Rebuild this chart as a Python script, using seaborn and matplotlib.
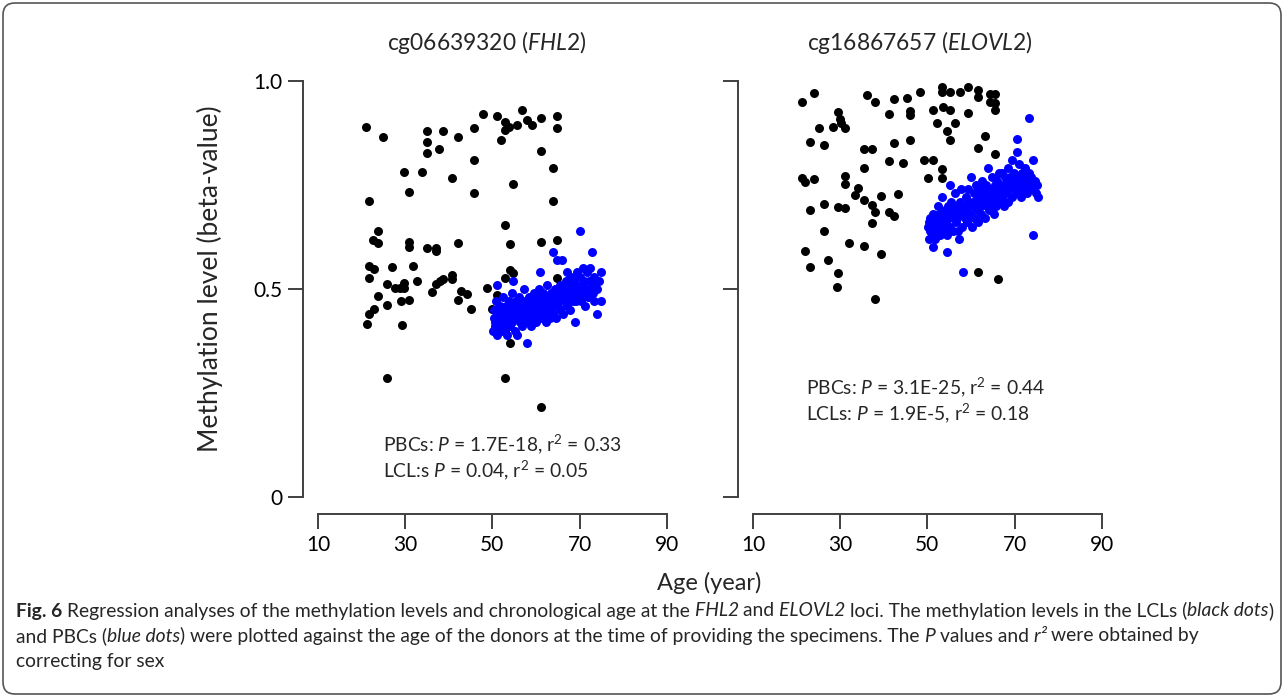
import matplotlib
matplotlib.use("Agg")
import matplotlib.pyplot as plt
from matplotlib.patches import FancyBboxPatch
from matplotlib.transforms import IdentityTransform
import pandas as pd
import seaborn as sns

sns.set_theme(style="white")
plt.rcParams['font.family'] = ['Lato', 'DejaVu Sans']
plt.rcParams['mathtext.fontset'] = 'custom'
plt.rcParams['mathtext.rm'] = 'Lato'
plt.rcParams['mathtext.it'] = 'Lato:italic'

# (age, beta)
fhl2_lcl = [(21.0,0.89),(25.0,0.865),(34.9,0.88),(34.9,0.854),(34.9,0.828),(38.7,0.88),(37.8,0.836),
            (42.0,0.865),(45.8,0.887),(45.8,0.81),(47.8,0.92),(51.0,0.916),(53.0,0.901),(53.0,0.882),
            (53.9,0.89),(55.7,0.894),(56.9,0.93),(57.9,0.906),(59.0,0.894),(61.1,0.912),(64.9,0.916),
            (64.9,0.886),(52.0,0.858),(61.1,0.832),(63.8,0.792),(29.7,0.781),(33.9,0.781),(40.8,0.766),
            (30.8,0.734),(45.8,0.73),(54.8,0.752),(21.7,0.712),(63.8,0.712),(53.0,0.655),(23.8,0.639),
            (22.7,0.618),(23.8,0.61),(30.8,0.614),(30.8,0.602),(34.9,0.599),(37.0,0.598),(37.0,0.591),
            (42.0,0.61),(54.0,0.607),(61.1,0.614),(64.9,0.618),(21.7,0.556),(22.8,0.548),(27.0,0.552),
            (31.9,0.556),(21.7,0.526),(25.9,0.512),(27.6,0.502),(28.8,0.502),(29.7,0.515),(29.7,0.502),
            (32.8,0.52),(37.0,0.512),(38.0,0.518),(38.7,0.523),(40.8,0.533),(40.8,0.523),(54.0,0.546),
            (54.8,0.538),(53.0,0.526),(64.9,0.526),(48.8,0.502),(51.0,0.486),(42.9,0.496),(44.1,0.488),
            (36.1,0.492),(23.8,0.483),(22.8,0.453),(21.7,0.44),(25.9,0.462),(29.0,0.47),(30.8,0.474),
            (42.0,0.474),(45.0,0.453),(49.9,0.453),(21.2,0.417),(29.2,0.413),(25.9,0.285),(53.0,0.285),
            (54.0,0.369),(61.1,0.216)]

fhl2_pbc = [(50.1,0.40),(50.3,0.43),(50.4,0.45),(50.6,0.41),(50.8,0.47),(51.0,0.51),(51.1,0.39),(51.3,0.44),
            (51.5,0.42),(51.7,0.46),(51.9,0.40),(52.1,0.43),(52.3,0.45),(52.4,0.48),(52.6,0.41),(52.8,0.44),
            (53.0,0.42),(53.1,0.46),(53.3,0.39),(53.5,0.43),(53.7,0.47),(53.9,0.45),(54.0,0.41),(54.2,0.44),
            (54.4,0.49),(54.6,0.42),(54.8,0.52),(54.9,0.46),(55.1,0.40),(55.3,0.44),(55.5,0.47),(55.6,0.39),
            (55.8,0.43),(56.0,0.45),(56.2,0.48),(56.4,0.42),(56.6,0.46),(56.7,0.44),(56.9,0.41),(57.1,0.47),
            (57.3,0.50),(57.5,0.43),(57.7,0.45),(57.9,0.37),(58.0,0.42),(58.2,0.46),(58.4,0.48),(58.6,0.44),
            (58.8,0.41),(59.0,0.45),(59.1,0.47),(59.3,0.43),(59.5,0.49),(59.7,0.46),(59.9,0.42),(60.1,0.44),
            (60.3,0.48),(60.5,0.45),(60.7,0.50),(60.9,0.54),(61.0,0.43),(61.2,0.47),(61.4,0.45),(61.6,0.49),
            (61.8,0.44),(62.0,0.46),(62.2,0.42),(62.4,0.48),(62.6,0.51),(62.8,0.45),(63.0,0.47),(63.2,0.43),
            (63.4,0.49),(63.6,0.46),(63.8,0.59),(63.9,0.44),(64.1,0.48),(64.3,0.50),(64.5,0.46),(64.7,0.43),
            (64.9,0.57),(65.0,0.47),(65.2,0.49),(65.4,0.45),(65.6,0.51),(65.9,0.57),(66.0,0.48),(66.2,0.44),
            (66.4,0.50),(66.6,0.47),(66.8,0.52),(67.0,0.54),(67.1,0.46),(67.3,0.49),(67.5,0.51),(67.7,0.45),
            (67.9,0.48),(68.1,0.53),(68.3,0.50),(68.5,0.47),(68.7,0.52),(68.9,0.42),(69.0,0.49),(69.2,0.51),
            (69.4,0.54),(69.6,0.48),(69.8,0.50),(70.0,0.53),(70.1,0.64),(70.3,0.47),(70.5,0.51),(70.7,0.55),
            (70.9,0.49),(71.1,0.52),(71.3,0.46),(71.5,0.50),(71.7,0.54),(71.9,0.48),(72.1,0.52),(72.3,0.50),
            (72.5,0.55),(72.8,0.59),(73.0,0.49),(73.2,0.53),(73.4,0.47),(73.6,0.51),(73.9,0.44),(74.1,0.50),
            (74.4,0.52),(74.9,0.54),(74.9,0.47),(50.5,0.42),(51.2,0.41),(52.0,0.44),(52.9,0.40),(53.6,0.45),
            (54.5,0.43),(55.2,0.46),(56.1,0.43),(57.0,0.44),(57.8,0.46),(58.5,0.43),(59.4,0.45),(60.2,0.47),
            (61.1,0.46),(62.1,0.47),(63.1,0.45),(64.0,0.47),(65.1,0.46),(66.1,0.49),(67.2,0.48),(68.2,0.49),
            (69.1,0.47),(70.2,0.50),(71.2,0.49),(72.2,0.48),(73.1,0.51)]

elovl2_lcl = [(21.3,0.949),(24.1,0.970),(29.5,0.926),(30.0,0.908),(30.2,0.898),(31.1,0.886),(28.3,0.890),
              (25.2,0.886),(23.1,0.854),(26.2,0.846),(36.2,0.967),(38.0,0.949),(42.3,0.956),(45.3,0.960),
              (48.2,0.974),(41.3,0.920),(46.1,0.928),(46.1,0.918),(53.4,0.986),(53.4,0.974),(55.1,0.974),
              (57.4,0.974),(59.4,0.986),(61.5,0.978),(61.5,0.961),(64.3,0.968),(65.5,0.968),(64.3,0.950),
              (65.5,0.946),(65.5,0.930),(51.3,0.930),(53.6,0.938),(55.1,0.930),(59.4,0.924),(52.3,0.898),
              (56.3,0.898),(54.5,0.880),(55.1,0.858),(63.2,0.868),(61.5,0.840),(65.5,0.825),(42.3,0.850),
              (46.1,0.858),(35.4,0.836),(37.4,0.836),(41.3,0.808),(44.4,0.802),(49.2,0.810),(51.3,0.810),
              (53.4,0.788),(35.4,0.792),(21.3,0.766),(22.0,0.758),(24.1,0.764),(31.1,0.772),(31.1,0.752),
              (34.1,0.742),(33.3,0.726),(35.4,0.714),(37.4,0.702),(38.0,0.686),(39.3,0.724),(43.3,0.728),
              (41.3,0.684),(42.3,0.675),(23.1,0.690),(26.2,0.704),(29.5,0.698),(31.1,0.694),(37.4,0.658),
              (50.2,0.766),(53.4,0.766),(26.2,0.639),(32.1,0.610),(35.4,0.603),(39.3,0.584),(22.0,0.591),
              (27.3,0.570),(23.1,0.552),(29.5,0.538),(29.3,0.504),(38.0,0.475),(61.5,0.541),(66.3,0.523)]

elovl2_pbc = [(50.2,0.65),(50.3,0.62),(50.5,0.67),(50.7,0.64),(50.9,0.66),(51.1,0.63),(51.3,0.60),(51.4,0.68),
              (51.6,0.65),(51.8,0.62),(52.0,0.67),(52.2,0.64),(52.4,0.70),(52.6,0.66),(52.8,0.63),(53.0,0.68),
              (53.2,0.65),(53.4,0.72),(53.6,0.67),(53.8,0.64),(54.0,0.69),(54.2,0.66),(54.4,0.63),(54.5,0.59),
              (54.7,0.70),(54.9,0.67),(55.1,0.75),(55.3,0.65),(55.5,0.71),(55.7,0.68),(55.9,0.64),(56.1,0.69),
              (56.3,0.73),(56.5,0.66),(56.7,0.70),(56.9,0.67),(57.1,0.64),(57.2,0.62),(57.4,0.71),(57.6,0.68),
              (57.8,0.74),(58.0,0.65),(58.2,0.54),(58.4,0.70),(58.6,0.67),(58.8,0.72),(59.0,0.69),(59.2,0.66),
              (59.4,0.74),(59.6,0.71),(59.8,0.68),(60.1,0.77),(60.2,0.65),(60.4,0.70),(60.6,0.73),(60.8,0.67),
              (61.0,0.71),(61.2,0.75),(61.4,0.69),(61.6,0.66),(61.8,0.72),(62.0,0.74),(62.2,0.70),(62.4,0.68),
              (62.6,0.76),(62.8,0.71),(63.0,0.73),(63.2,0.67),(63.4,0.75),(63.6,0.70),(63.9,0.79),(64.0,0.72),
              (64.2,0.69),(64.4,0.74),(64.6,0.71),(64.8,0.77),(65.0,0.73),(65.2,0.68),(65.4,0.75),(65.6,0.72),
              (65.8,0.70),(66.0,0.76),(66.2,0.73),(66.4,0.78),(66.6,0.71),(66.8,0.74),(67.0,0.78),(67.2,0.72),
              (67.4,0.75),(67.6,0.70),(67.8,0.77),(68.0,0.73),(68.2,0.76),(68.4,0.71),(68.6,0.79),(68.8,0.74),
              (69.0,0.77),(69.3,0.81),(69.4,0.72),(69.6,0.75),(69.8,0.78),(70.0,0.74),(70.2,0.76),(70.5,0.86),
              (70.5,0.83),(70.7,0.73),(70.9,0.77),(71.1,0.80),(71.3,0.75),(71.5,0.72),(71.7,0.78),(71.9,0.76),
              (72.1,0.74),(72.4,0.79),(72.6,0.77),(72.8,0.73),(73.0,0.76),(73.3,0.91),(73.3,0.78),(73.5,0.74),
              (73.8,0.77),(74.0,0.75),(74.3,0.81),(74.3,0.63),(74.6,0.76),(74.9,0.73),(75.2,0.75),(75.4,0.72),
              (50.4,0.66),(51.0,0.65),(51.9,0.66),(52.7,0.68),(53.5,0.66),(54.3,0.68),(55.0,0.69),(56.0,0.67),
              (56.8,0.69),(57.7,0.70),(58.5,0.69),(59.5,0.70),(60.5,0.71),(61.5,0.72),(62.5,0.72),(63.5,0.72),
              (64.5,0.73),(65.5,0.74),(66.5,0.74),(67.5,0.74),(68.5,0.75),(69.5,0.76),(70.6,0.75),(71.6,0.76),
              (72.5,0.75)]

titles = ["cg06639320 ($\\mathit{FHL2}$)", "cg16867657 ($\\mathit{ELOVL2}$)"]
stats = [["PBCs: $\\mathit{P}$ = 1.7E-18, r$^2$ = 0.33", "LCL:s $\\mathit{P}$ = 0.04, r$^2$ = 0.05"],
         ["PBCs: $\\mathit{P}$ = 3.1E-25, r$^2$ = 0.44", "LCLs: $\\mathit{P}$ = 1.9E-5, r$^2$ = 0.18"]]
x_ticks = [10, 30, 50, 70, 90]
y_ticks = [0, 0.5, 1.0]
y_ticklabels = ["0", "0.5", "1.0"]

W, H = 1284, 697
fig = plt.figure(figsize=(W / 100, H / 100), dpi=100)

def fx(px):
    return px / W

def fy(py):
    return 1 - py / H

spine_col = "#404040"
panels = [(fhl2_lcl, fhl2_pbc, 303), (elovl2_lcl, elovl2_pbc, 738)]
stat_pos = [(383, 444, 470), (806, 387, 413)]
title_x = [487, 920]

for i, (lcl, pbc, left_px) in enumerate(panels):
    ax = fig.add_axes([fx(left_px), fy(514), (675.5 - 303) / W, (514 - 72.7) / H])
    df_l = pd.DataFrame(lcl, columns=["age", "beta"])
    df_p = pd.DataFrame(pbc, columns=["age", "beta"])
    sns.scatterplot(data=df_l, x="age", y="beta", color="black", s=42, linewidth=0, ax=ax, clip_on=False)
    sns.scatterplot(data=df_p, x="age", y="beta", color="#0000ff", s=42, linewidth=0, ax=ax, clip_on=False)
    ax.set_xlim(6.56, 92)
    ax.set_ylim(-0.041, 1.02)
    ax.set_facecolor("none")
    for side in ["top", "right"]:
        ax.spines[side].set_visible(False)
    ax.spines["left"].set_bounds(0, 1)
    ax.spines["bottom"].set_bounds(10, 90)
    for side in ["left", "bottom"]:
        ax.spines[side].set_color(spine_col)
        ax.spines[side].set_linewidth(1.4)
    ax.set_xticks(x_ticks)
    ax.set_xticklabels([str(t) for t in x_ticks])
    ax.set_yticks(y_ticks)
    ax.set_yticklabels(y_ticklabels if i == 0 else [])
    ax.tick_params(axis="both", direction="out", length=11, width=1.4, color=spine_col,
                   labelsize=15, labelcolor="black", left=True, bottom=True, pad=4)
    ax.set_xlabel("")
    ax.set_ylabel("")
    fig.text(fx(title_x[i]), fy(42), titles[i], ha="center", va="center", fontsize=16.4)
    sx, sy1, sy2 = stat_pos[i]
    fig.text(fx(sx), fy(sy1), stats[i][0], ha="left", va="center", fontsize=13.9)
    fig.text(fx(sx), fy(sy2), stats[i][1], ha="left", va="center", fontsize=13.9)

fig.text(fx(210), fy(279), "Methylation level (beta-value)", rotation=90, ha="center", va="center", fontsize=19)
fig.text(fx(709), fy(583), "Age (year)", ha="center", va="center", fontsize=17)

# caption, drawn piece by piece so italic / bold segments line up
cap_font = ["Lato", "DejaVu Sans"]
caption = [
    [("Fig. 6 ", "bold", "normal"),
     ("Regression analyses of the methylation levels and chronological age at the ", "normal", "normal"),
     ("FHL2 ", "normal", "italic"), ("and ", "normal", "normal"), ("ELOVL2 ", "normal", "italic"),
     ("loci. The methylation levels in the LCLs (", "normal", "normal"), ("black dots", "normal", "italic"),
     (")", "normal", "normal")],
    [("and PBCs (", "normal", "normal"), ("blue dots", "normal", "italic"),
     (") were plotted against the age of the donors at the time of providing the specimens. The ", "normal", "normal"),
     ("P ", "normal", "italic"), ("values and ", "normal", "normal"), ("r\u00b2 ", "normal", "italic"),
     ("were obtained by", "normal", "normal")],
    [("correcting for sex", "normal", "normal")],
]
cap_y = [611, 636, 661]
renderer = fig.canvas.get_renderer()


def seg_width(txt, size, weight, style):
    probe = fig.text(0, 0, txt + "|", fontsize=size, fontweight=weight, fontstyle=style, family=cap_font)
    bar = fig.text(0, 0, "|", fontsize=size, fontweight=weight, fontstyle=style, family=cap_font)
    w = probe.get_window_extent(renderer).width - bar.get_window_extent(renderer).width
    probe.remove()
    bar.remove()
    return w


# first line runs from x=16 to x=1280 in the reference
base = 12
line1 = sum(seg_width(t, base, w, s) for t, w, s in caption[0])
cap_size = base * 1262 / line1

for line, py in zip(caption, cap_y):
    x = 16
    for txt, weight, style in line:
        fig.text(x, H - py, txt, transform=IdentityTransform(), ha="left", va="center",
                 fontsize=cap_size, fontweight=weight, fontstyle=style, family=cap_font)
        x += seg_width(txt, cap_size, weight, style)

border = FancyBboxPatch((0.03, 0.03), W / 100 - 0.06, H / 100 - 0.06,
                        boxstyle="round,pad=0,rounding_size=0.12",
                        transform=fig.dpi_scale_trans, facecolor="none", edgecolor="#555555", linewidth=1.2)
fig.patches.append(border)

fig.savefig("out.png", dpi=100)
